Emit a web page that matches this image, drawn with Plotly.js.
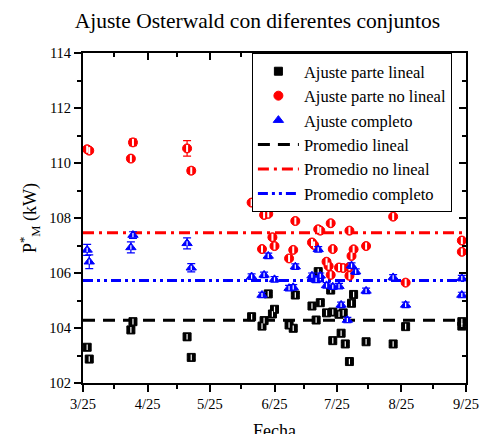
<!DOCTYPE html>
<html><head><meta charset="utf-8">
<script src="https://cdn.plot.ly/plotly-3.0.1.min.js"></script>
<style>html,body{margin:0;padding:0;background:#fff}#chart{width:481px;height:434px}</style>
</head><body><div id="chart"></div>
<script>
// ---- data ----
const linDates = ['2019-03-27','2019-03-28','2019-04-18','2019-04-17','2019-05-14','2019-05-16','2019-06-14','2019-06-20','2019-06-19','2019-06-25','2019-06-24','2019-06-22','2019-07-05','2019-07-02','2019-07-04','2019-07-17','2019-07-13','2019-07-16','2019-07-15','2019-07-20','2019-07-23','2019-07-26','2019-07-28','2019-07-22','2019-07-27','2019-07-23','2019-07-29','2019-07-31','2019-08-02','2019-08-01','2019-08-08','2019-08-21','2019-08-27','2019-09-23','2019-09-23'];
const linVals  = [103.30,102.87,104.23,103.93,103.68,102.93,104.41,104.27,104.07,104.68,104.51,105.24,105.20,104.11,103.99,104.92,104.80,106.05,104.29,104.55,104.58,104.50,104.55,105.38,103.81,103.54,103.42,102.78,105.22,104.90,103.50,103.42,104.05,104.23,104.07];
const linErr   = [0.10,0.08,0.08,0.10,0.12,0.08,0.06,0.06,0.06,0.06,0.06,0.06,0.06,0.06,0.06,0.06,0.06,0.06,0.06,0.06,0.06,0.06,0.06,0.06,0.06,0.06,0.06,0.06,0.06,0.06,0.06,0.06,0.06,0.06,0.06];

const nlDates = ['2019-03-27','2019-03-28','2019-04-18','2019-04-17','2019-05-14','2019-05-16','2019-06-14','2019-06-20','2019-06-22','2019-07-05','2019-06-24','2019-06-25','2019-06-19','2019-07-04','2019-07-02','2019-07-16','2019-07-17','2019-07-22','2019-07-13','2019-07-14','2019-07-23','2019-07-31','2019-08-02','2019-07-20','2019-07-21','2019-07-26','2019-07-28','2019-07-31','2019-07-22','2019-07-31','2019-08-21','2019-08-08','2019-08-01','2019-09-23','2019-09-23','2019-08-27'];
const nlVals  = [110.50,110.45,110.75,110.16,110.53,109.72,108.56,108.11,108.15,107.89,107.30,106.98,106.87,106.84,106.53,107.59,107.54,107.81,107.11,107.02,106.87,107.54,106.86,106.41,106.25,106.20,106.18,106.22,105.93,105.90,108.05,106.98,106.62,107.18,106.77,105.65];
const nlErr   = [0.08,0.08,0.12,0.08,0.28,0.10,0.06,0.06,0.06,0.06,0.06,0.06,0.06,0.06,0.06,0.06,0.06,0.06,0.06,0.06,0.06,0.06,0.06,0.06,0.06,0.06,0.06,0.06,0.06,0.06,0.06,0.06,0.06,0.06,0.06,0.06];

const cDates = ['2019-03-27','2019-03-28','2019-04-18','2019-04-17','2019-05-14','2019-05-16','2019-06-22','2019-07-05','2019-07-16','2019-08-01','2019-06-14','2019-06-20','2019-06-25','2019-07-02','2019-07-04','2019-06-19','2019-07-13','2019-07-15','2019-07-17','2019-07-20','2019-07-23','2019-07-26','2019-07-27','2019-07-30','2019-08-03','2019-08-21','2019-08-08','2019-08-27','2019-09-23','2019-09-23'];
const cVals  = [106.84,106.41,107.38,106.93,107.08,106.19,106.62,106.23,106.86,106.27,105.87,105.93,105.77,105.45,105.48,105.20,105.90,105.75,105.90,105.55,105.50,105.52,104.84,104.29,106.05,105.84,105.35,104.84,105.81,105.20];
const cErr   = [0.20,0.25,0.12,0.20,0.20,0.15,0.10,0.10,0.10,0.10,0.10,0.10,0.10,0.10,0.10,0.10,0.10,0.10,0.10,0.10,0.10,0.10,0.10,0.10,0.10,0.10,0.10,0.10,0.10,0.10];

const promedioLineal = 104.28;
const promedioNoLineal = 107.46;
const promedioCompleto = 105.73;

const xRange = ['2019-03-25', '2019-09-25'];
const yRange = [102, 114];

// ---- chart ----
const FONT = 'Liberation Serif, Times New Roman, serif';

function pts(name, x, y, err, color, symbol, size, rank) {
  return {
    type: 'scatter', mode: 'markers', name: name, x: x, y: y, legendrank: rank,
    marker: { symbol: symbol, size: size, color: color, line: { color: color, width: 1 } },
    error_y: { type: 'data', array: err, visible: true, color: color, thickness: 1.2, width: 4 }
  };
}
// white slit drawn over each marker to mimic the half-filled symbols
function slit(x, y, size, w) {
  return {
    type: 'scatter', mode: 'markers', x: x, y: y, showlegend: false, hoverinfo: 'skip',
    marker: { symbol: 'line-ns', size: size, line: { color: 'white', width: w } }
  };
}
function avgLine(name, val, color, dash, rank) {
  return {
    type: 'scatter', mode: 'lines', name: name, legendrank: rank,
    x: xRange, y: [val, val],
    line: { color: color, width: 3, dash: dash }
  };
}

const traces = [
  avgLine('Promedio lineal', promedioLineal, 'black', '12px,8px', 4),
  avgLine('Promedio no lineal', promedioNoLineal, 'red', '11px,5px,3px,5px', 5),
  avgLine('Promedio completo', promedioCompleto, 'blue', '10px,4px,3px,4px,3px,4px', 6),
  pts('Ajuste parte lineal', linDates, linVals, linErr, 'black', 'square', 8, 1),
  slit(linDates, linVals, 4, 1.2),
  pts('Ajuste parte no lineal', nlDates, nlVals, nlErr, 'red', 'circle', 9, 2),
  slit(nlDates, nlVals, 5, 2),
  pts('Ajuste completo', cDates, cVals, cErr, 'blue', 'triangle-up', 9, 3),
  slit(cDates, cVals, 3, 1.2),
  { type: 'scatter', x: [], y: [], xaxis: 'x2', yaxis: 'y2', showlegend: false, hoverinfo: 'skip' }
];

const layout = {
  width: 481, height: 434,
  margin: { l: 83, r: 15, t: 53, b: 51 },
  paper_bgcolor: 'white', plot_bgcolor: 'white',
  font: { family: FONT, color: 'black', size: 14.5 },
  title: { text: 'Ajuste Osterwald con diferentes conjuntos', font: { family: FONT, size: 21.5, color: 'black' },
    x: 0.535, xanchor: 'center', y: 0.952, yanchor: 'middle', yref: 'container' },
  showlegend: true,
  legend: { x: 0.441, y: 1, xanchor: 'left', yanchor: 'top', bgcolor: 'white',
    bordercolor: 'black', borderwidth: 1, font: { family: FONT, size: 16.5, color: 'black' },
    itemwidth: 41, traceorder: 'normal', tracegroupgap: 0 },
  xaxis: {
    type: 'date', range: xRange, tickformat: '%-m/%d', dtick: 'M1', tick0: '2019-03-25',
    ticks: 'outside', ticklen: 7, tickwidth: 2, tickcolor: 'black',
    minor: { dtick: 'M1', tick0: '2019-04-09', ticks: 'outside', ticklen: 4, tickwidth: 2, tickcolor: 'black' },
    showline: true, linecolor: 'black', linewidth: 2, showgrid: false, zeroline: false,
    tickfont: { family: FONT, size: 14.5 }
  },
  yaxis: {
    range: yRange, dtick: 2, tick0: 102,
    ticks: 'outside', ticklen: 7, tickwidth: 2, tickcolor: 'black',
    minor: { dtick: 1, ticks: 'outside', ticklen: 4, tickwidth: 2, tickcolor: 'black' },
    showline: true, linecolor: 'black', linewidth: 2, showgrid: false, zeroline: false,
    tickfont: { family: FONT, size: 14.5 },
    title: { text: 'P<sup>*</sup><sub>M</sub> (kW)', font: { family: FONT, size: 18 }, standoff: 8 }
  },
  xaxis2: {
    type: 'date', range: xRange, overlaying: 'x', side: 'top', anchor: 'y2',
    dtick: 'M1', tick0: '2019-03-25', ticks: 'inside', ticklen: 7, tickwidth: 2, tickcolor: 'black',
    minor: { dtick: 'M1', tick0: '2019-04-09', ticks: 'inside', ticklen: 4, tickwidth: 2, tickcolor: 'black' },
    showticklabels: false, showline: true, linecolor: 'black', linewidth: 2, showgrid: false, zeroline: false
  },
  yaxis2: {
    range: yRange, overlaying: 'y', side: 'right', anchor: 'x2',
    dtick: 2, tick0: 102, ticks: 'inside', ticklen: 7, tickwidth: 2, tickcolor: 'black',
    minor: { dtick: 1, ticks: 'inside', ticklen: 4, tickwidth: 2, tickcolor: 'black' },
    showticklabels: false, showline: true, linecolor: 'black', linewidth: 2, showgrid: false, zeroline: false
  },
  annotations: [{
    text: 'Fecha', xref: 'paper', yref: 'paper', x: 0.5, y: -0.108,
    xanchor: 'center', yanchor: 'top', showarrow: false,
    font: { family: FONT, size: 18, color: 'black' }
  }]
};

Plotly.newPlot('chart', traces, layout, { displayModeBar: false, staticPlot: true });
</script></body></html>
